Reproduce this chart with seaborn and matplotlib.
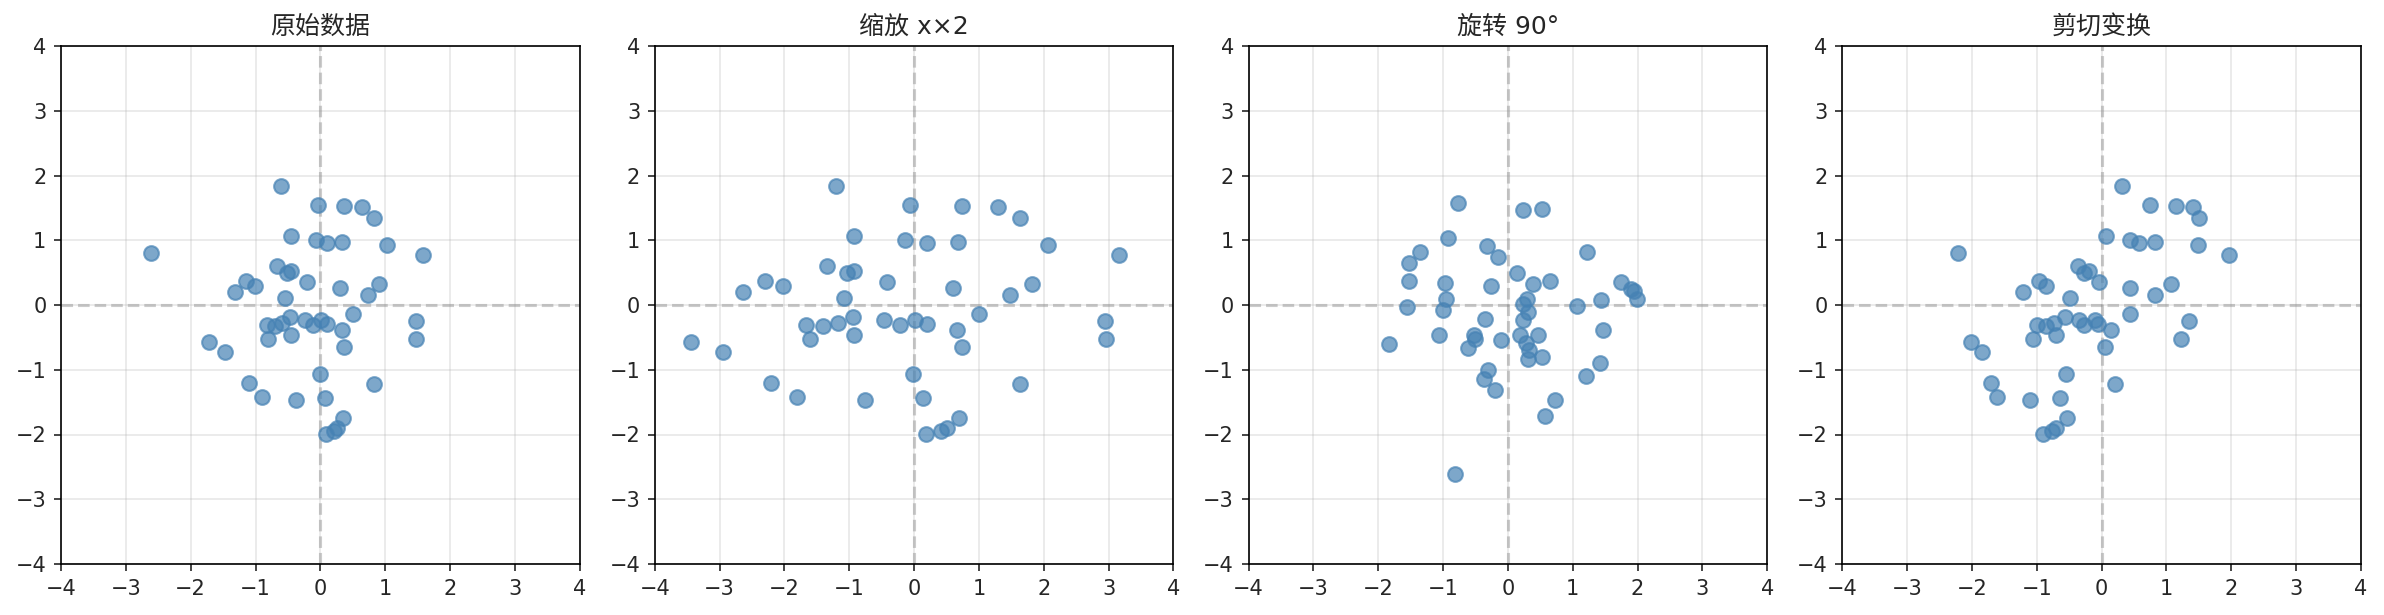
import matplotlib
matplotlib.use("Agg")
import matplotlib.pyplot as plt
import seaborn as sns
import pandas as pd

sns.set_style("white")
plt.rcParams['font.family'] = ['DejaVu Sans', 'Noto Sans CJK SC']
plt.rcParams['axes.unicode_minus'] = True

titles = ["原始数据", "缩放 x×2", "旋转 90°", "剪切变换"]
ticks = [-4, -3, -2, -1, 0, 1, 2, 3, 4]

# Panel 1: original data
orig_x = [-0.60, -0.03, 0.37, 0.65, 0.82, -0.46, -0.07, 0.10, 0.34, 1.03,
          1.58, -2.61, -0.67, -0.52, -0.46, -1.15, -1.01, -1.32, -0.21, 0.30,
          0.91, 0.74, -0.54, 0.50, -0.47, -0.83, -0.70, -0.59, -0.23, -0.11,
          0.01, 0.10, 0.33, -0.80, -0.46, 1.47, 1.48, 0.37, -1.72, -1.47,
          -0.01, 0.82, -1.10, -0.90, -0.38, 0.07, 0.35, 0.25, 0.21, 0.09]
orig_y = [1.84, 1.55, 1.53, 1.52, 1.35, 1.06, 1.00, 0.96, 0.97, 0.92,
          0.77, 0.81, 0.61, 0.50, 0.53, 0.37, 0.30, 0.20, 0.35, 0.26,
          0.32, 0.16, 0.11, -0.14, -0.18, -0.31, -0.32, -0.28, -0.23, -0.31,
          -0.23, -0.30, -0.39, -0.52, -0.47, -0.24, -0.53, -0.65, -0.57, -0.73,
          -1.07, -1.22, -1.20, -1.42, -1.46, -1.44, -1.75, -1.90, -1.95, -1.99]

# Panel 2: scaled x
scale_x = [-1.20, -0.06, 0.74, 1.30, 1.64, -0.92, -0.14, 0.20, 0.68, 2.06,
           3.16, -5.22, -1.34, -1.04, -0.92, -2.30, -2.02, -2.64, -0.42, 0.60,
           1.82, 1.48, -1.08, 1.00, -0.94, -1.66, -1.40, -1.18, -0.46, -0.22,
           0.02, 0.20, 0.66, -1.60, -0.92, 2.94, 2.96, 0.74, -3.44, -2.94,
           -0.02, 1.64, -2.20, -1.80, -0.76, 0.14, 0.70, 0.50, 0.42, 0.18]
scale_y = list(orig_y)

# Panel 3: rotated 90 degrees
rot_x = [-1.84, -1.55, -1.53, -1.52, -1.35, -1.06, -1.00, -0.96, -0.97, -0.92,
         -0.77, -0.81, -0.61, -0.50, -0.53, -0.37, -0.30, -0.20, -0.35, -0.26,
         -0.32, -0.16, -0.11, 0.14, 0.18, 0.31, 0.32, 0.28, 0.23, 0.31,
         0.23, 0.30, 0.39, 0.52, 0.47, 0.24, 0.53, 0.65, 0.57, 0.73,
         1.07, 1.22, 1.20, 1.42, 1.46, 1.44, 1.75, 1.90, 1.95, 1.99]
rot_y = list(orig_x)

# Panel 4: shear
shear_x = [0.32, 0.75, 1.14, 1.41, 1.50, 0.07, 0.43, 0.58, 0.83, 1.49,
           1.97, -2.21, -0.37, -0.27, -0.20, -0.97, -0.86, -1.22, -0.04, 0.43,
           1.07, 0.82, -0.49, 0.43, -0.56, -0.99, -0.86, -0.73, -0.35, -0.27,
           -0.11, -0.05, 0.14, -1.06, -0.70, 1.35, 1.22, 0.05, -2.01, -1.84,
           -0.55, 0.21, -1.70, -1.61, -1.11, -0.65, -0.53, -0.70, -0.77, -0.91]
shear_y = list(orig_y)

panels = [(orig_x, orig_y), (scale_x, scale_y), (rot_x, rot_y), (shear_x, shear_y)]

fig, axes = plt.subplots(1, 4, figsize=(2384 / 150, 615 / 150), dpi=150)
fig.subplots_adjust(left=61 / 2384, right=2361 / 2384, top=1 - 46 / 615,
                    bottom=1 - 564 / 615, wspace=75 / 518)

for ax, (px, py), title in zip(axes, panels, titles):
    df = pd.DataFrame({"x": px, "y": py})
    ax.axhline(0, color="gray", linestyle="--", alpha=0.4, linewidth=1.5, zorder=1)
    ax.axvline(0, color="gray", linestyle="--", alpha=0.4, linewidth=1.5, zorder=1)
    sns.scatterplot(data=df, x="x", y="y", ax=ax, s=50, color="steelblue",
                    alpha=0.7, edgecolor="steelblue", linewidth=1.0, zorder=3)
    ax.set_xlim(-4, 4)
    ax.set_ylim(-4, 4)
    ax.set_xticks(ticks)
    ax.set_yticks(ticks)
    ax.grid(True, alpha=0.3, color="#b0b0b0", linewidth=0.8)
    ax.set_axisbelow(True)
    ax.set_xlabel("")
    ax.set_ylabel("")
    ax.set_title(title, fontsize=12, family=['DejaVu Sans', 'Noto Sans CJK SC'])
    ax.tick_params(axis="both", which="both", length=3.5, width=0.8,
                   direction="out", bottom=True, left=True, labelsize=10)
    for sp in ax.spines.values():
        sp.set_visible(True)
        sp.set_color("black")
        sp.set_linewidth(0.8)

fig.savefig("out.png", dpi=150)
